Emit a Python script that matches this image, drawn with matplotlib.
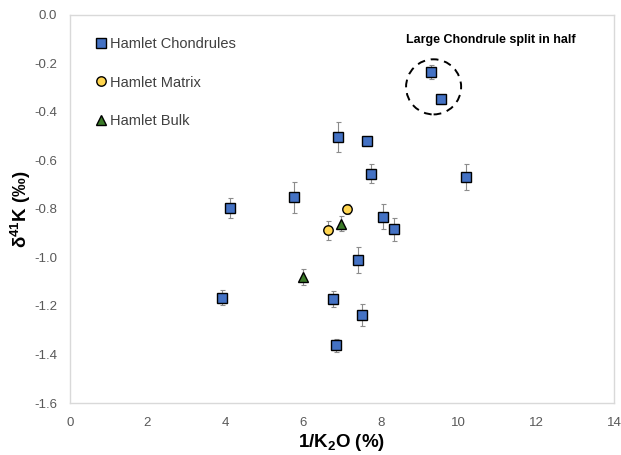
import matplotlib
matplotlib.use("Agg")
import matplotlib.pyplot as plt
from matplotlib.patches import Ellipse

plt.rcParams['font.family'] = ['Liberation Sans', 'DejaVu Sans']
plt.rcParams['mathtext.default'] = 'regular'

# Data
chondrule_x = [9.30, 9.55, 6.91, 7.65, 7.76, 10.19, 5.77, 4.13, 8.06, 8.33, 7.42, 3.91, 6.78, 7.51, 6.86]
chondrule_y = [-0.236, -0.350, -0.504, -0.520, -0.655, -0.669, -0.753, -0.797, -0.832, -0.885, -1.012, -1.166, -1.170, -1.239, -1.362]
chondrule_err = [0.03, 0.02, 0.062, 0.015, 0.04, 0.053, 0.064, 0.041, 0.05, 0.047, 0.054, 0.032, 0.033, 0.045, 0.027]

matrix_x = [7.13, 6.64]
matrix_y = [-0.800, -0.889]
matrix_err = [0.02, 0.04]

bulk_x = [6.98, 6.00]
bulk_y = [-0.861, -1.081]
bulk_err = [0.03, 0.032]

x_ticks = [0, 2, 4, 6, 8, 10, 12, 14]
y_ticks = [0.0, -0.2, -0.4, -0.6, -0.8, -1.0, -1.2, -1.4, -1.6]

fig = plt.figure(figsize=(6.21, 4.55), dpi=100)
ax = fig.add_axes([69.7/621, 1 - 403/455, (614 - 69.7)/621, (403 - 14.5)/455])

err_kw = dict(fmt='none', ecolor='#8c8c8c', elinewidth=0.8, capsize=1.8, capthick=0.8, zorder=2)
ax.errorbar(chondrule_x, chondrule_y, yerr=chondrule_err, **err_kw)
ax.errorbar(matrix_x, matrix_y, yerr=matrix_err, **err_kw)
ax.errorbar(bulk_x, bulk_y, yerr=bulk_err, **err_kw)

ax.plot(chondrule_x, chondrule_y, linestyle='none', marker='s', ms=6.8,
        mfc='#4472C4', mec='black', mew=1.0, zorder=3, label='Hamlet Chondrules')
ax.plot(matrix_x, matrix_y, linestyle='none', marker='o', ms=6.8,
        mfc='#FFD54F', mec='black', mew=1.0, zorder=3, label='Hamlet Matrix')
ax.plot(bulk_x, bulk_y, linestyle='none', marker='^', ms=7.0,
        mfc='#3B7A28', mec='black', mew=1.0, zorder=3, label='Hamlet Bulk')

# Dashed circle around large chondrule
ell = Ellipse((9.36, -0.298), width=1.416, height=0.227, fill=False,
              edgecolor='black', linestyle=(0, (4, 3)), linewidth=1.4, zorder=4)
ax.add_patch(ell)
ax.text(490.8/621, 1 - 40.5/455, 'Large Chondrule split in half', transform=fig.transFigure,
        ha='center', va='center', fontsize=9, fontweight='bold', color='black')

ax.set_xlim(0, 14)
ax.set_ylim(-1.6, 0.0)
ax.set_xticks(x_ticks)
ax.set_yticks(y_ticks)
ax.set_xticklabels([str(t) for t in x_ticks])
ax.set_yticklabels([f'{t:.1f}' for t in y_ticks])
ax.tick_params(length=0, labelsize=9.5, labelcolor='#595959')
ax.tick_params(axis='x', pad=10)
ax.tick_params(axis='y', pad=9)
for s in ax.spines.values():
    s.set_color('#d9d9d9')
    s.set_linewidth(1.0)

ax.set_xlabel('1/K$_2$O (%)', fontsize=13.5, fontweight='bold', color='black', labelpad=2)
ax.set_ylabel('δ$^{41}$K (‰)', fontsize=13.5, fontweight='bold', color='black', labelpad=1)

leg = ax.legend(loc='upper left', bbox_to_anchor=(27/ (614-69.7), 1 - 23/ (403-14.5)),
                frameon=False, fontsize=10.5, handlelength=0.6, handletextpad=0.3,
                labelspacing=1.65, borderpad=0, borderaxespad=0, numpoints=1)
for t in leg.get_texts():
    t.set_color('#404040')

fig.savefig('out.png', dpi=100)
